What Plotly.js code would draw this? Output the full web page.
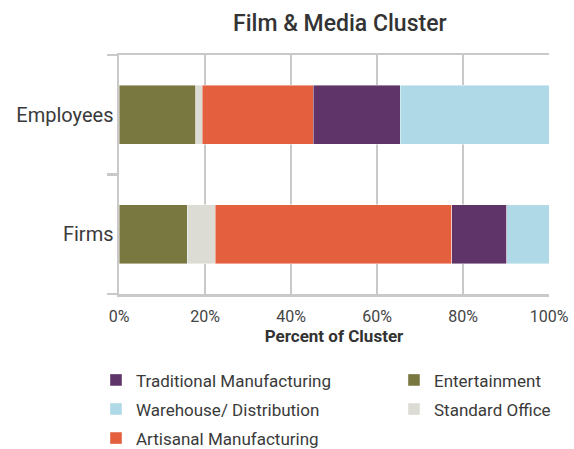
<!DOCTYPE html>
<html>
<head>
<meta charset="utf-8">
<script src="https://cdn.plot.ly/plotly-3.0.1.min.js"></script>
<style>html,body{margin:0;padding:0;background:#fff;}</style>
</head>
<body>
<div id="chart" style="width:574px;height:449px;"></div>
<script>
var categories = ["Firms", "Employees"];
var seriesNames = ["Entertainment", "Standard Office", "Artisanal Manufacturing", "Traditional Manufacturing", "Warehouse/ Distribution"];
var entertainment = [15.9, 17.9];
var standardOffice = [6.5, 1.5];
var artisanal = [55.0, 25.8];
var traditional = [12.8, 20.2];
var warehouse = [9.8, 34.6];
var xTickVals = [0, 20, 40, 60, 80, 100];
var xTickText = ["0%", "20%", "40%", "60%", "80%", "100%"];

var FONT = "Roboto, 'DejaVu Sans', sans-serif";
var colors = ["#7a7841", "#dcdcd4", "#e35f3e", "#5e3469", "#afd9e6"];
var values = [entertainment, standardOffice, artisanal, traditional, warehouse];
var legendOf = ["legend2", "legend2", "legend", "legend", "legend"];
var ranks = [1, 2, 3, 1, 2];

var traces = seriesNames.map(function (name, i) {
  return {
    type: "bar",
    orientation: "h",
    name: name,
    y: categories,
    x: values[i],
    marker: { color: colors[i], line: { width: 0.6, color: "rgba(255,255,255,0.7)" } },
    legend: legendOf[i],
    legendrank: ranks[i],
    legendgroup: "g" + i,
    hoverinfo: "x+name"
  };
});

var legendBase = {
  orientation: "v",
  yref: "container",
  yanchor: "top",
  xanchor: "left",
  y: 0.193,
  font: { family: FONT, size: 17, color: "#3a3a3a" },
  tracegroupgap: 4,
  bgcolor: "rgba(0,0,0,0)",
  itemclick: false
};

var layout = {
  width: 574,
  height: 449,
  margin: { l: 119, r: 25, t: 55, b: 155, autoexpand: false },
  paper_bgcolor: "#fff",
  plot_bgcolor: "#fff",
  barmode: "stack",
  bargap: 0.51,
  font: { family: FONT, color: "#444" },
  title: {
    text: "Film &amp; Media Cluster",
    font: { family: FONT, size: 23, color: "#333", weight: 500 },
    xref: "container", x: 0.592, xanchor: "center",
    yref: "container", y: 0.949, yanchor: "middle"
  },
  xaxis: {
    range: [0, 100],
    tickvals: xTickVals,
    ticktext: xTickText,
    showgrid: true,
    gridcolor: "#c9c9c9",
    gridwidth: 2.5,
    zeroline: false,
    showline: true,
    mirror: true,
    linecolor: "#c9c9c9",
    linewidth: 2.5,
    ticks: "",
    ticklabelstandoff: 6,
    automargin: false,
    tickfont: { family: FONT, size: 16, color: "#444" },
    title: { text: "Percent of Cluster", font: { family: FONT, size: 17, color: "#333", weight: 700 }, standoff: 5 },
    fixedrange: true
  },
  yaxis: {
    type: "category",
    categoryorder: "array",
    categoryarray: categories,
    range: [-0.5, 1.5],
    showgrid: false,
    zeroline: false,
    showline: true,
    linecolor: "#c9c9c9",
    linewidth: 2.5,
    ticks: "outside",
    tickson: "boundaries",
    ticklen: 10,
    tickwidth: 2.5,
    tickcolor: "#c9c9c9",
    ticklabelstandoff: -1,
    automargin: false,
    tickfont: { family: FONT, size: 20, color: "#3a3a3a" },
    fixedrange: true
  },
  legend: Object.assign({}, legendBase, { x: -0.0535 }),
  legend2: Object.assign({}, legendBase, { x: 0.6395 }),
  showlegend: true
};

Plotly.newPlot("chart", traces, layout, { displayModeBar: false, staticPlot: true });
</script>
</body>
</html>
